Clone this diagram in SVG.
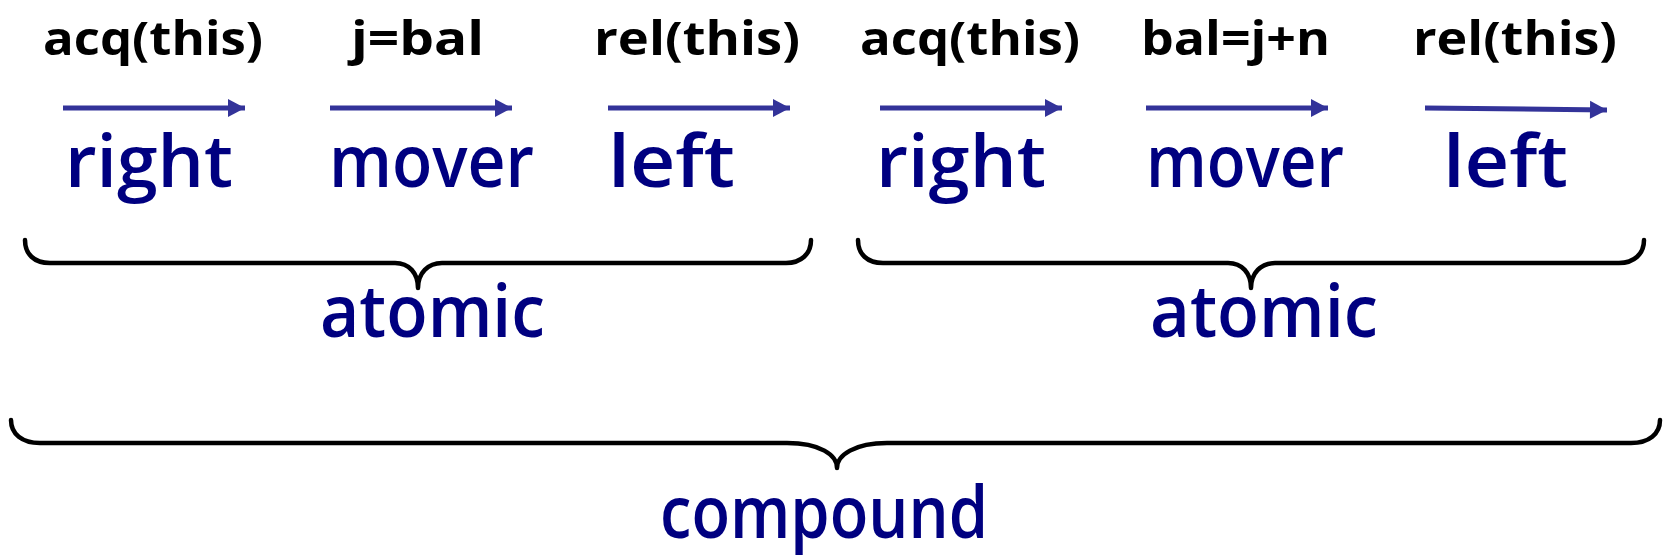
<svg xmlns="http://www.w3.org/2000/svg" width="1669" height="557" viewBox="0 0 1669 557">
  <style>
    .op { font-family: "Open Sans", "DejaVu Sans", sans-serif; font-weight: bold; font-size: 47px; fill: #000000; }
    .mv { font-family: "Open Sans", "DejaVu Sans", sans-serif; font-weight: 600; font-size: 72px; fill: #000080; }
    .lab { font-family: "Open Sans", "DejaVu Sans", sans-serif; font-weight: 600; font-size: 72px; fill: #000080; }
    .big { font-family: "Open Sans", "DejaVu Sans", sans-serif; font-weight: 600; font-size: 72px; fill: #000080; }
    .arr { stroke: #333399; stroke-width: 5; fill: none; marker-end: url(#ah); }
    .brace { stroke: #000000; stroke-width: 4.5; fill: none; stroke-linecap: round; stroke-linejoin: round; }
  </style>
  <defs>
    <marker id="ah" markerUnits="userSpaceOnUse" markerWidth="20" markerHeight="20" viewBox="0 0 20 20" refX="18" refY="10" orient="auto">
      <path d="M1,1 L18,10 L1,19 Z" fill="#333399"/>
    </marker>
  </defs>

  <g id="connectors">
    <line class="arr" x1="63" y1="108" x2="245" y2="108"/>
    <line class="arr" x1="330" y1="108" x2="512" y2="108"/>
    <line class="arr" x1="608" y1="108" x2="790" y2="108"/>
    <line class="arr" x1="880" y1="108" x2="1062" y2="108"/>
    <line class="arr" x1="1146" y1="108" x2="1328" y2="108"/>
    <line class="arr" x1="1425" y1="108" x2="1607" y2="110"/>
  </g>

  <g id="op1"><text class="op" x="43" y="55" textLength="220" lengthAdjust="spacingAndGlyphs">acq(this)</text></g>
  <g id="op2"><text class="op" x="351" y="55" textLength="133" lengthAdjust="spacingAndGlyphs">j=bal</text></g>
  <g id="op3"><text class="op" x="594" y="55" textLength="206" lengthAdjust="spacingAndGlyphs">rel(this)</text></g>
  <g id="op4"><text class="op" x="860" y="55" textLength="220" lengthAdjust="spacingAndGlyphs">acq(this)</text></g>
  <g id="op5"><text class="op" x="1141" y="55" textLength="189" lengthAdjust="spacingAndGlyphs">bal=j+n</text></g>
  <g id="op6"><text class="op" x="1413" y="55" textLength="204" lengthAdjust="spacingAndGlyphs">rel(this)</text></g>

  <g id="mv1"><text class="mv" x="65" y="187" textLength="168" lengthAdjust="spacingAndGlyphs">right</text></g>
  <g id="mv2"><text class="mv" x="329" y="187" textLength="205" lengthAdjust="spacingAndGlyphs">mover</text></g>
  <g id="mv3"><text class="mv" x="608" y="187" textLength="127" lengthAdjust="spacingAndGlyphs">left</text></g>
  <g id="mv4"><text class="mv" x="876" y="187" textLength="170" lengthAdjust="spacingAndGlyphs">right</text></g>
  <g id="mv5"><text class="mv" x="1146" y="187" textLength="198" lengthAdjust="spacingAndGlyphs">mover</text></g>
  <g id="mv6"><text class="mv" x="1443" y="187" textLength="125" lengthAdjust="spacingAndGlyphs">left</text></g>

  <g id="atomic1">
    <path class="brace" d="M25,240 C25,254 34,263 50,263 L395,263 C409,263 418,273 418,288 C418,273 428,263 442,263 L786,263 C801,263 811,254 811,240"/>
    <text class="lab" x="320" y="337" textLength="225" lengthAdjust="spacingAndGlyphs">atomic</text>
  </g>
  <g id="atomic2">
    <path class="brace" d="M858,240 C858,254 867,263 883,263 L1228,263 C1242,263 1251,273 1251,288 C1251,273 1261,263 1275,263 L1619,263 C1634,263 1644,254 1644,240"/>
    <text class="lab" x="1150" y="337" textLength="228" lengthAdjust="spacingAndGlyphs">atomic</text>
  </g>
  <g id="compound">
    <path class="brace" d="M11,420 C11,434 22,443 40,443 L787,443 C820,443 837,455 837,468 C837,455 855,443 887,443 L1631,443 C1649,443 1660,434 1660,420"/>
    <text class="big" x="660" y="538" textLength="328" lengthAdjust="spacingAndGlyphs">compound</text>
  </g>
</svg>
